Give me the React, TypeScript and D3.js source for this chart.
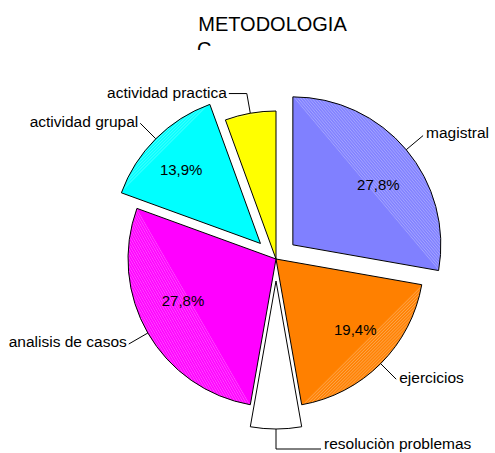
import * as d3 from "d3";
import { useEffect, useRef } from "react";

const categories = ["magistral", "ejercicios", "resoluciòn problemas", "analisis de casos", "actividad grupal", "actividad practica"];
const values = [10, 7, 2, 10, 5, 2];
const colors = ["#8080FF", "#FF8000", "#FFFFFF", "#FF00FF", "#00FFFF", "#FFFF00"];
const exploded = [true, false, true, false, true, false];
const titleLines = ["METODOLOGIA", "C"];

// leader line: radial elbow length, then horizontal run
const leaderLen = [22, 22, 20, 22, 22, 20];
const leaderRun = [0, 0, 45, 0, 0, -18];
// baseline shift of category text relative to the leader end
const labelShift = [2, 4, 0, 3, 4, 4];
// small nudges of the percent labels
const pctNudge: [number, number][] = [[5, 7], [5, -4], [0, 0], [-2, -11], [-5, 1], [0, 0]];

const App = () => {
  const ref = useRef<SVGSVGElement | null>(null);

  useEffect(() => {
    if (!ref.current) return;
    const svg = d3.select(ref.current);
    svg.selectAll("*").remove();

    const font = "Arial, 'Liberation Sans', sans-serif";
    const cx = 276;
    const cy = 259;
    const r = 148;
    const explode = 22;
    const total = d3.sum(values);

    const pt = (a: number, rad: number): [number, number] => [rad * Math.sin(a), -rad * Math.cos(a)];

    // title
    const defs = svg.append("defs");
    defs.append("clipPath").attr("id", "titleClip").append("rect").attr("x", 0).attr("y", 0).attr("width", 495).attr("height", 50);
    const tg = svg.append("g").attr("clip-path", "url(#titleClip)").style("font-family", font).style("font-size", "20px");
    tg.append("text").attr("x", 272.5).attr("y", 31).attr("text-anchor", "middle").text(titleLines[0]);
    tg.append("text").attr("x", 197).attr("y", 55.5).text(titleLines[1]);

    const pie = d3
      .pie<number>()
      .sort(null)
      .value((d) => d)
      .startAngle(0)
      .endAngle(2 * Math.PI);
    const arcs = pie(values);
    const arc = d3.arc<d3.PieArcDatum<number>>().innerRadius(0).outerRadius(r);

    const g = svg.append("g").attr("transform", `translate(${cx},${cy})`);

    arcs.forEach((d, i) => {
      const mid = (d.startAngle + d.endAngle) / 2;
      const off = exploded[i] ? pt(mid, explode) : [0, 0];
      const sg = g.append("g").attr("transform", `translate(${off[0]},${off[1]})`);

      sg.append("path").attr("d", arc(d)!).attr("fill", colors[i]);

      // light streaks in the segment outside the chord
      if (colors[i] !== "#FFFFFF") {
        const p0 = pt(d.startAngle, r);
        const p1 = pt(d.endAngle, r);
        const ang = (Math.atan2(p1[1] - p0[1], p1[0] - p0[0]) * 180) / Math.PI;
        const pid = `streak${i}`;
        const pat = defs
          .append("pattern")
          .attr("id", pid)
          .attr("patternUnits", "userSpaceOnUse")
          .attr("width", 8)
          .attr("height", 2.2)
          .attr("patternTransform", `rotate(${ang})`);
        pat.append("line").attr("x1", 0).attr("x2", 8).attr("y1", 1).attr("y2", 1).attr("stroke", "#fff").attr("stroke-opacity", 0.4).attr("stroke-width", 0.7);
        sg.append("path")
          .attr("d", `M${p0[0]},${p0[1]}A${r},${r} 0 0 1 ${p1[0]},${p1[1]}Z`)
          .attr("fill", `url(#${pid})`);
      }

      sg.append("path").attr("d", arc(d)!).attr("fill", "none").attr("stroke", "#000").attr("stroke-width", 1);

      // percent label
      if (d.data / total > 0.1) {
        const lp = pt(mid, r * 0.71);
        sg.append("text")
          .attr("x", lp[0] + pctNudge[i][0])
          .attr("y", lp[1] + pctNudge[i][1])
          .attr("dy", "0.35em")
          .attr("text-anchor", "middle")
          .style("font-family", font)
          .style("font-size", "15px")
          .text(`${((d.data / total) * 100).toFixed(1).replace(".", ",")}%`);
      }

      // category label with leader line
      const a1 = pt(mid, r);
      const a2 = pt(mid, r + leaderLen[i]);
      const a3: [number, number] = [a2[0] + leaderRun[i], a2[1]];
      sg.append("path")
        .attr("d", d3.line()([a1, a2, a3]))
        .attr("fill", "none")
        .attr("stroke", "#000")
        .attr("stroke-width", 1);
      const right = leaderRun[i] !== 0 ? leaderRun[i] > 0 : Math.sin(mid) >= 0;
      sg.append("text")
        .attr("x", a3[0] + (right ? 3 : -2))
        .attr("y", a3[1] + labelShift[i])
        .attr("text-anchor", right ? "start" : "end")
        .style("font-family", font)
        .style("font-size", "15.5px")
        .text(categories[i]);
    });
  }, []);

  return <svg ref={ref} width={495} height={453} style={{ position: "absolute", left: 0, top: 0, background: "#fff" }} />;
};

export default App;
